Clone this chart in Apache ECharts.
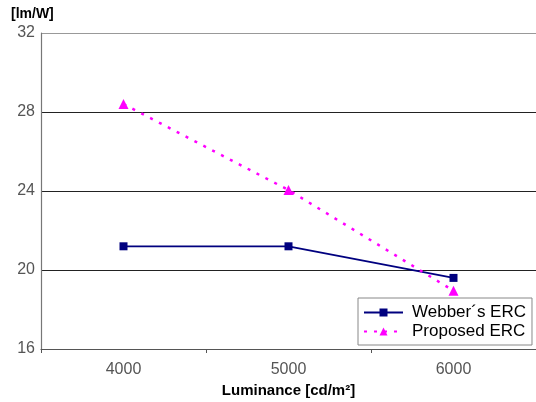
<!DOCTYPE html>
<html><head><meta charset="utf-8">
<script src="https://cdn.jsdelivr.net/npm/echarts@6/dist/echarts.min.js"></script>
<style>html,body{margin:0;padding:0;background:#fff}#c{width:536px;height:402px}</style>
</head><body><div id="c"></div>
<script>
const categories = ['4000', '5000', '6000'];
const webber = [21.2, 21.2, 19.6];
const proposed = [28.4, 24.05, 18.95];
const yTicks = [16, 20, 24, 28, 32];
const seriesNames = ['Webber\u00b4s ERC', 'Proposed ERC'];

const FONT = 'Liberation Sans, Arial, sans-serif';
const chart = echarts.init(document.getElementById('c'));
chart.setOption({
  animation: false,
  backgroundColor: '#fff',
  grid: {left: 41, right: 0, top: 33, bottom: 53, containLabel: false, outerBoundsMode: 'none'},
  graphic: [{type: 'text', left: 11, top: 7, style: {text: '[lm/W]', font: 'bold 14px ' + FONT, fill: '#000'}}],
  xAxis: {
    type: 'category', data: categories, boundaryGap: true,
    name: 'Luminance [cd/m\u00b2]', nameLocation: 'middle', nameGap: 33,
    nameTextStyle: {fontFamily: FONT, fontWeight: 'bold', fontSize: 15, color: '#000'},
    axisLine: {lineStyle: {color: '#555', width: 1.2}},
    axisTick: {show: true, length: 4, lineStyle: {color: '#555'}},
    axisLabel: {fontFamily: FONT, fontSize: 16, color: '#555', margin: 13}
  },
  yAxis: {
    type: 'value', min: yTicks[0], max: yTicks[yTicks.length - 1], interval: 4,
    axisLine: {show: true, lineStyle: {color: '#777', width: 1.2}},
    axisTick: {show: false},
    axisLabel: {fontFamily: FONT, fontSize: 16, color: '#555', margin: 6, padding: [4, 0, 0, 0]},
    splitLine: {show: true, lineStyle: {color: ['#555', '#222', '#222', '#222', '#999'], width: 1.2}}
  },
  legend: {
    orient: 'vertical', left: 358, top: 298,
    backgroundColor: '#fff', borderColor: '#888', borderWidth: 1, borderRadius: 0,
    padding: [6, 6, 5, 5], itemGap: 2, itemWidth: 39, itemHeight: 10,
    textStyle: {fontFamily: FONT, fontSize: 17, color: '#000', padding: [0, 0, 0, 4]},
    data: seriesNames
  },
  series: [
    {name: seriesNames[0], type: 'line', data: webber, symbol: 'rect', symbolSize: 8,
     itemStyle: {color: '#00007f'}, lineStyle: {color: '#00007f', width: 1.8}},
    {name: seriesNames[1], type: 'line', data: proposed, symbol: 'triangle', symbolSize: 10,
     itemStyle: {color: '#ff00ff'}, lineStyle: {color: '#ff00ff', width: 2.5, type: [3, 7]}}
  ]
});
</script></body></html>
